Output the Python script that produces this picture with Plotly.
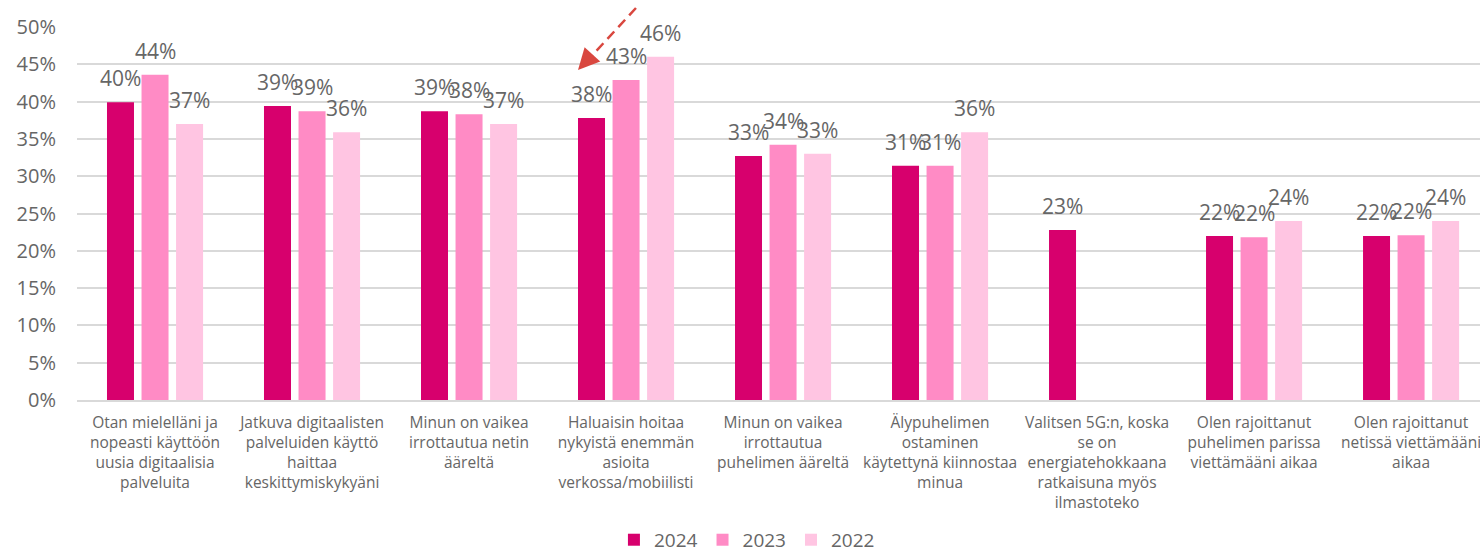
import plotly.graph_objects as go

categories = [
    "Otan mielelläni ja<br>nopeasti käyttöön<br>uusia digitaalisia<br>palveluita",
    "Jatkuva digitaalisten<br>palveluiden käyttö<br>haittaa<br>keskittymiskykyäni",
    "Minun on vaikea<br>irrottautua netin<br>ääreltä",
    "Haluaisin hoitaa<br>nykyistä enemmän<br>asioita<br>verkossa/mobiilisti",
    "Minun on vaikea<br>irrottautua<br>puhelimen ääreltä",
    "Älypuhelimen<br>ostaminen<br>käytettynä kiinnostaa<br>minua",
    "Valitsen 5G:n, koska<br>se on<br>energiatehokkaana<br>ratkaisuna myös<br>ilmastoteko",
    "Olen rajoittanut<br>puhelimen parissa<br>viettämääni aikaa",
    "Olen rajoittanut<br>netissä viettämääni<br>aikaa",
]
years = ["2024", "2023", "2022"]
values_2024 = [39.9, 39.4, 38.7, 37.8, 32.7, 31.4, 22.8, 22.0, 22.0]
values_2023 = [43.6, 38.7, 38.3, 42.9, 34.2, 31.4, None, 21.8, 22.1]
values_2022 = [37.0, 35.9, 37.0, 46.0, 33.0, 35.9, None, 24.0, 24.0]
ytick_vals = [0, 5, 10, 15, 20, 25, 30, 35, 40, 45, 50]
ytick_text = [f"{v}%" for v in ytick_vals]

series = [values_2024, values_2023, values_2022]
colors = ["#D7006D", "#FF8BC5", "#FFC5E2"]
offsets = [-0.306, -0.086, 0.134]
width = 0.172
FONT = "Open Sans"
GRAY = "#666666"

fig = go.Figure()
xs = list(range(len(categories)))
for name, vals, col, off in zip(years, series, colors, offsets):
    fig.add_trace(go.Bar(
        x=xs, y=vals, name=name, marker_color=col, marker_line_width=0,
        offset=off, width=width,
    ))
    for i, v in enumerate(vals):
        if v is None:
            continue
        fig.add_annotation(
            x=i + off + width / 2, y=v, xref="x", yref="y",
            text=f"{round(v)}%", showarrow=False, yanchor="bottom",
            yshift=8, font=dict(family=FONT, size=21, color=GRAY),
        )

# red dashed arrow (paper coordinates)
fig.add_shape(type="line", xref="paper", yref="paper",
              x0=0.3984, y0=1.051, x1=0.3650, y1=0.915,
              line=dict(color="#D9473F", width=2.5, dash="10px,6px"))
fig.add_annotation(x=0.3571, y=0.8847, xref="paper", yref="paper", ax=12, ay=-13,
                   text="", showarrow=True, arrowhead=2, arrowsize=1.7,
                   arrowwidth=2.5, arrowcolor="#D9473F")

fig.update_layout(
    width=1480, height=552,
    margin=dict(l=77, r=0, t=27, b=152, autoexpand=False),
    paper_bgcolor="white", plot_bgcolor="white",
    barmode="group",
    font=dict(family=FONT, color=GRAY),
    showlegend=True,
    legend=dict(orientation="h", x=0.4775, xanchor="center", y=-0.375, yanchor="middle",
                font=dict(family=FONT, size=19, color=GRAY), itemwidth=30,
                traceorder="normal"),
    xaxis=dict(
        tickmode="array", tickvals=xs, ticktext=categories, automargin=False,
        ticklabeloverflow="allow", ticklabelstandoff=7,
        range=[-0.497, 8.439], showgrid=False, showline=True, linecolor="#D9D9D9",
        linewidth=2, ticks="", tickangle=0,
        tickfont=dict(family=FONT, size=15.5, color=GRAY),
    ),
    yaxis=dict(
        range=[0, 50], tickmode="array", tickvals=ytick_vals, ticktext=ytick_text,
        automargin=False,
        showgrid=True, gridcolor="#D9D9D9", gridwidth=2,
        zeroline=False, ticks="", ticklabelstandoff=20,
        tickfont=dict(family=FONT, size=20, color=GRAY),
    ),
)

fig.write_html(
    "out.html",
    config={"displayModeBar": False},
    post_script="document.body.style.margin='0';document.body.style.overflow='hidden';",
)
